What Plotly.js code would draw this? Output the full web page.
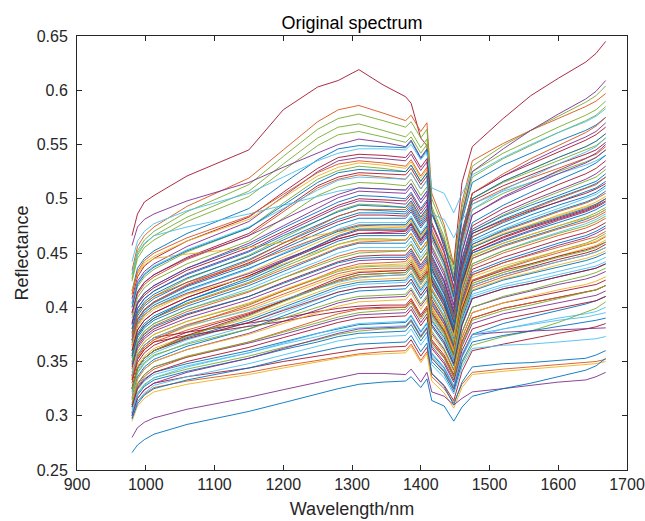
<!DOCTYPE html>
<html>
<head>
<meta charset="utf-8">
<script src="https://cdn.plot.ly/plotly-3.0.1.min.js"></script>
<style>html,body{margin:0;padding:0;background:#fff;}#chart{width:645px;height:521px;}</style>
</head>
<body>
<div id="chart"></div>
<script>
const wavelength = [980, 988, 998, 1012, 1060, 1150, 1200, 1250, 1280, 1310, 1345, 1378, 1386, 1400, 1409, 1416, 1434, 1448, 1460, 1475, 1520, 1560, 1600, 1640, 1655, 1669];

// Reflectance spectra (one array per sample), same order as wavelength
const r01 = [.466,.486,.497,.503,.521,.545,.582,.603,.609,.619,.605,.594,.588,.556,.549,.490,.455,.440,.515,.548,.574,.595,.611,.626,.634,.645];
const r02 = [.434,.456,.466,.474,.493,.519,.545,.571,.582,.586,.579,.572,.577,.562,.570,.505,.476,.439,.497,.535,.551,.563,.574,.585,.590,.597];
const r03 = [.430,.452,.462,.470,.488,.513,.539,.564,.574,.578,.572,.566,.571,.556,.564,.500,.472,.435,.492,.530,.549,.563,.576,.589,.595,.604];
const r04 = [.426,.448,.458,.466,.483,.507,.532,.556,.566,.569,.563,.557,.562,.547,.555,.493,.465,.430,.487,.525,.542,.554,.566,.577,.582,.590];
const r05 = [.424,.445,.455,.462,.479,.502,.526,.549,.559,.562,.557,.552,.557,.542,.550,.490,.462,.427,.483,.520,.537,.549,.561,.572,.577,.585];
const r06 = [.457,.474,.481,.486,.498,.515,.529,.542,.550,.555,.552,.548,.554,.538,.546,.487,.460,.425,.485,.525,.546,.563,.578,.592,.599,.609];
const r07 = [.415,.436,.445,.452,.468,.491,.514,.536,.546,.549,.548,.547,.553,.537,.545,.486,.458,.424,.480,.515,.531,.542,.553,.563,.568,.575];
const r08 = [.442,.461,.470,.477,.489,.505,.520,.535,.542,.546,.546,.545,.550,.536,.543,.510,.505,.487,.505,.522,.538,.550,.561,.571,.576,.583];
const r09 = [.408,.428,.438,.445,.461,.483,.506,.528,.538,.541,.540,.538,.544,.529,.537,.478,.452,.419,.468,.505,.521,.532,.543,.554,.559,.566];
const r10 = [.404,.424,.433,.440,.456,.479,.502,.525,.535,.538,.537,.535,.541,.526,.534,.476,.450,.417,.470,.505,.521,.534,.546,.557,.562,.570];
const r11 = [.412,.431,.441,.447,.461,.481,.501,.521,.529,.533,.531,.528,.534,.519,.527,.470,.445,.413,.465,.500,.516,.527,.538,.548,.553,.560];
const r12 = [.400,.419,.428,.435,.451,.473,.496,.518,.526,.530,.528,.525,.531,.516,.524,.468,.443,.411,.464,.500,.515,.525,.535,.545,.549,.556];
const r13 = [.395,.414,.423,.430,.446,.468,.490,.512,.520,.524,.523,.522,.528,.513,.521,.465,.441,.409,.462,.498,.512,.522,.532,.541,.545,.552];
const r14 = [.393,.412,.421,.428,.444,.466,.488,.510,.518,.522,.520,.518,.524,.509,.517,.462,.438,.407,.460,.495,.509,.519,.528,.537,.541,.548];
const r15 = [.390,.409,.418,.425,.440,.461,.482,.503,.511,.515,.514,.512,.518,.503,.511,.457,.434,.403,.456,.490,.505,.515,.525,.534,.538,.545];
const r16 = [.431,.450,.459,.466,.474,.486,.494,.502,.507,.510,.509,.508,.514,.499,.507,.486,.481,.464,.480,.495,.507,.515,.523,.531,.535,.540];
const r17 = [.386,.405,.413,.420,.436,.457,.473,.488,.497,.503,.502,.500,.506,.491,.499,.448,.425,.396,.445,.478,.494,.506,.517,.528,.533,.540];
const r18 = [.384,.403,.411,.418,.434,.455,.470,.485,.494,.500,.499,.498,.504,.489,.497,.446,.424,.395,.443,.475,.491,.502,.513,.523,.528,.535];
const r19 = [.380,.399,.408,.415,.431,.452,.468,.483,.492,.498,.497,.495,.501,.486,.494,.444,.422,.393,.440,.472,.487,.498,.508,.518,.523,.530];
const r20 = [.376,.395,.403,.410,.426,.448,.464,.480,.489,.495,.494,.492,.498,.483,.491,.441,.419,.391,.438,.470,.485,.496,.506,.516,.520,.527];
const r21 = [.377,.396,.405,.412,.427,.447,.462,.476,.484,.490,.489,.488,.494,.479,.487,.438,.417,.389,.436,.468,.481,.491,.501,.510,.514,.520];
const r22 = [.373,.392,.401,.408,.423,.444,.459,.473,.481,.487,.487,.486,.492,.477,.485,.436,.415,.387,.434,.465,.478,.488,.497,.506,.510,.516];
const r23 = [.370,.389,.398,.405,.420,.441,.456,.471,.479,.485,.485,.484,.490,.475,.483,.435,.413,.386,.436,.468,.480,.489,.497,.505,.509,.514];
const r24 = [.369,.388,.397,.404,.419,.439,.454,.468,.476,.482,.482,.482,.488,.473,.481,.433,.412,.385,.431,.462,.475,.485,.494,.502,.506,.512];
const r25 = [.365,.384,.393,.400,.415,.435,.450,.464,.472,.478,.478,.478,.484,.469,.477,.430,.410,.383,.429,.460,.472,.482,.491,.500,.504,.510];
const r26 = [.375,.394,.403,.410,.423,.440,.452,.464,.471,.476,.476,.476,.482,.467,.475,.429,.408,.382,.427,.458,.470,.479,.488,.496,.500,.505];
const r27 = [.363,.382,.391,.398,.412,.432,.446,.460,.468,.474,.474,.474,.480,.465,.473,.427,.406,.380,.425,.455,.467,.476,.485,.493,.497,.502];
const r28 = [.360,.379,.388,.395,.409,.429,.443,.457,.465,.471,.471,.471,.477,.462,.470,.425,.405,.379,.423,.452,.465,.474,.482,.490,.494,.500];
const r29 = [.365,.384,.393,.400,.413,.431,.444,.456,.463,.468,.468,.468,.474,.459,.467,.422,.402,.377,.421,.450,.462,.471,.480,.488,.492,.497];
const r30 = [.357,.376,.385,.392,.406,.425,.439,.453,.461,.466,.466,.466,.472,.457,.465,.421,.401,.376,.420,.450,.461,.470,.478,.486,.490,.495];
const r31 = [.355,.374,.383,.390,.404,.423,.437,.450,.458,.463,.463,.462,.468,.453,.461,.417,.398,.373,.417,.447,.459,.467,.475,.483,.487,.492];
const r32 = [.353,.372,.381,.388,.401,.420,.433,.446,.454,.459,.459,.459,.465,.450,.458,.415,.396,.371,.415,.445,.457,.465,.473,.481,.485,.490];
const r33 = [.415,.431,.439,.445,.449,.455,.460,.466,.470,.472,.473,.474,.480,.465,.473,.427,.406,.380,.425,.456,.468,.476,.484,.492,.495,.500];
const r34 = [.350,.369,.378,.385,.398,.417,.430,.442,.450,.455,.455,.455,.461,.446,.454,.412,.393,.369,.412,.440,.452,.461,.469,.477,.481,.486];
const r35 = [.348,.367,.376,.383,.396,.414,.427,.440,.447,.452,.452,.452,.458,.443,.451,.410,.391,.367,.410,.438,.450,.458,.466,.473,.477,.482];
const r36 = [.345,.364,.373,.380,.393,.410,.423,.435,.442,.447,.448,.448,.454,.439,.447,.407,.388,.365,.407,.435,.446,.454,.462,.469,.473,.478];
const r37 = [.347,.366,.375,.382,.394,.410,.422,.434,.441,.445,.446,.446,.452,.437,.445,.405,.387,.364,.405,.432,.443,.451,.459,.466,.470,.475];
const r38 = [.343,.362,.371,.378,.390,.407,.419,.431,.438,.443,.444,.444,.450,.435,.443,.403,.385,.362,.403,.430,.441,.449,.457,.464,.468,.473];
const r39 = [.340,.359,.368,.375,.387,.403,.415,.426,.433,.437,.438,.438,.444,.429,.437,.399,.381,.359,.399,.425,.436,.444,.452,.459,.463,.468];
const r40 = [.337,.356,.365,.372,.384,.400,.412,.424,.431,.435,.436,.436,.442,.427,.435,.397,.379,.357,.398,.425,.435,.443,.450,.457,.460,.465];
const r41 = [.335,.354,.363,.370,.382,.398,.410,.422,.429,.433,.434,.434,.440,.425,.433,.395,.378,.356,.396,.422,.432,.440,.447,.454,.457,.462];
const r42 = [.330,.349,.358,.365,.377,.394,.406,.418,.425,.430,.431,.432,.438,.423,.431,.394,.377,.355,.394,.420,.430,.437,.444,.450,.453,.458];
const r43 = [.333,.352,.361,.368,.379,.395,.406,.417,.424,.428,.429,.430,.436,.421,.429,.392,.375,.353,.392,.418,.428,.435,.442,.448,.451,.455];
const r44 = [.327,.346,.355,.362,.374,.390,.402,.414,.421,.425,.426,.427,.433,.418,.426,.390,.373,.352,.390,.416,.426,.432,.439,.445,.448,.452];
const r45 = [.325,.344,.353,.360,.372,.388,.400,.412,.419,.423,.424,.425,.431,.416,.424,.388,.372,.351,.389,.415,.425,.431,.437,.443,.446,.450];
const r46 = [.323,.342,.351,.358,.370,.386,.398,.410,.417,.421,.422,.423,.429,.414,.422,.387,.370,.350,.387,.412,.421,.427,.433,.439,.442,.446];
const r47 = [.320,.339,.348,.355,.367,.383,.395,.407,.414,.418,.419,.420,.426,.411,.419,.384,.368,.348,.385,.410,.419,.424,.430,.436,.438,.442];
const r48 = [.317,.336,.345,.352,.364,.380,.392,.404,.411,.415,.416,.417,.423,.408,.416,.382,.366,.346,.383,.408,.417,.422,.428,.434,.436,.440];
const r49 = [.315,.334,.343,.350,.361,.376,.387,.398,.404,.408,.409,.410,.416,.401,.409,.376,.361,.342,.377,.400,.409,.415,.421,.426,.429,.433];
const r50 = [.337,.356,.365,.372,.377,.385,.390,.396,.399,.401,.402,.402,.408,.393,.401,.370,.356,.338,.372,.395,.404,.409,.414,.419,.421,.425];
const r51 = [.333,.352,.361,.368,.374,.382,.387,.393,.396,.399,.400,.400,.406,.391,.399,.368,.354,.336,.368,.390,.399,.404,.409,.414,.416,.420];
const r52 = [.310,.329,.338,.345,.354,.367,.375,.384,.389,.393,.394,.395,.401,.386,.394,.364,.350,.333,.364,.385,.394,.399,.404,.409,.411,.415];
const r53 = [.308,.326,.334,.340,.348,.360,.368,.376,.380,.384,.385,.386,.392,.377,.385,.357,.344,.327,.356,.375,.385,.391,.397,.403,.406,.410];
const r54 = [.306,.324,.332,.338,.346,.358,.366,.373,.378,.381,.382,.383,.389,.374,.382,.355,.342,.326,.354,.372,.380,.385,.390,.394,.396,.400];
const r55 = [.303,.321,.329,.335,.343,.355,.363,.370,.375,.378,.380,.381,.387,.372,.380,.353,.340,.324,.348,.365,.373,.378,.386,.395,.399,.405];
const r56 = [.302,.319,.327,.333,.341,.353,.361,.368,.373,.376,.377,.378,.384,.369,.377,.350,.338,.322,.350,.368,.374,.378,.382,.386,.388,.390];
const r57 = [.300,.316,.324,.330,.336,.344,.350,.355,.358,.361,.363,.364,.370,.355,.363,.339,.328,.314,.341,.360,.366,.371,.376,.380,.382,.385];
const r58 = [.298,.313,.320,.326,.332,.340,.346,.351,.354,.357,.359,.360,.366,.351,.359,.336,.325,.312,.329,.340,.343,.345,.347,.349,.350,.352];
const r59 = [.295,.309,.316,.322,.329,.338,.344,.350,.353,.356,.357,.358,.364,.349,.357,.332,.321,.307,.326,.338,.341,.343,.345,.347,.348,.350];
const r60 = [.280,.289,.294,.298,.306,.317,.324,.331,.335,.339,.339,.338,.343,.331,.340,.322,.318,.310,.316,.322,.325,.328,.331,.333,.336,.340];
const r61 = [.266,.273,.278,.283,.292,.304,.312,.320,.325,.329,.331,.332,.336,.326,.334,.314,.309,.295,.308,.318,.325,.330,.336,.342,.346,.353];
const r62 = [.355,.374,.383,.390,.403,.422,.435,.447,.455,.460,.461,.462,.468,.453,.461,.417,.398,.373,.416,.445,.456,.464,.472,.479,.483,.488];
const r63 = [.360,.379,.388,.395,.409,.429,.442,.455,.463,.468,.469,.470,.476,.461,.469,.424,.404,.378,.423,.452,.464,.473,.481,.489,.493,.498];
const r64 = [.367,.386,.395,.402,.416,.436,.449,.462,.470,.475,.476,.476,.482,.467,.475,.429,.408,.382,.428,.458,.471,.480,.489,.497,.501,.507];
const r65 = [.350,.369,.378,.385,.398,.415,.427,.438,.445,.450,.451,.452,.458,.443,.451,.410,.391,.367,.411,.440,.452,.460,.468,.475,.479,.484];
const r66 = [.335,.354,.363,.370,.383,.402,.415,.427,.435,.440,.441,.442,.448,.433,.441,.402,.384,.361,.402,.430,.441,.448,.455,.462,.465,.470];
const r67 = [.340,.359,.368,.375,.387,.404,.416,.427,.434,.438,.439,.440,.446,.431,.439,.400,.382,.360,.401,.428,.438,.445,.452,.458,.461,.466];
const r68 = [.325,.344,.353,.360,.374,.393,.406,.419,.427,.432,.433,.434,.440,.425,.433,.395,.378,.356,.398,.424,.434,.440,.447,.453,.456,.460];
const r69 = [.337,.356,.365,.372,.383,.397,.407,.417,.423,.427,.429,.430,.436,.421,.429,.392,.375,.353,.393,.420,.430,.436,.442,.448,.451,.455];
const r70 = [.380,.399,.408,.415,.430,.451,.466,.480,.488,.494,.493,.492,.498,.483,.491,.442,.419,.391,.439,.470,.484,.494,.503,.512,.516,.523];
const r71 = [.385,.404,.413,.420,.436,.459,.475,.491,.501,.507,.506,.505,.511,.496,.504,.452,.429,.399,.451,.485,.501,.512,.523,.533,.538,.545];
const r72 = [.403,.422,.431,.438,.453,.474,.491,.508,.517,.520,.519,.518,.524,.509,.517,.462,.438,.407,.457,.490,.508,.520,.532,.543,.548,.556];
const r73 = [.412,.433,.443,.450,.464,.484,.504,.524,.532,.535,.533,.530,.536,.521,.529,.472,.446,.414,.468,.505,.523,.537,.549,.561,.567,.575];
const r74 = [.400,.421,.430,.437,.452,.473,.494,.515,.524,.527,.526,.525,.531,.516,.524,.467,.442,.410,.466,.500,.516,.527,.538,.548,.553,.560];
const r75 = [.322,.340,.349,.356,.366,.380,.390,.400,.406,.410,.411,.412,.418,.403,.411,.378,.362,.343,.377,.400,.410,.416,.423,.429,.432,.436];
const r76 = [.316,.334,.343,.350,.361,.375,.385,.395,.401,.405,.406,.407,.413,.398,.406,.374,.359,.340,.373,.395,.404,.410,.416,.421,.424,.428];
const r77 = [.310,.327,.336,.343,.354,.368,.378,.388,.394,.398,.399,.400,.406,.391,.399,.368,.354,.336,.368,.390,.399,.404,.409,.414,.416,.420];
const r78 = [.308,.325,.333,.340,.350,.363,.372,.381,.386,.390,.391,.392,.398,.383,.391,.362,.348,.331,.360,.380,.389,.394,.399,.404,.406,.410];
const r79 = [.298,.313,.321,.328,.336,.348,.356,.364,.369,.372,.373,.374,.380,.365,.373,.347,.335,.320,.345,.362,.365,.366,.368,.370,.371,.373];
const r80 = [.300,.316,.324,.330,.340,.353,.362,.371,.376,.380,.381,.382,.388,.373,.381,.353,.341,.325,.355,.375,.377,.378,.379,.380,.380,.381];
const r81 = [.297,.311,.319,.325,.333,.344,.352,.359,.363,.366,.367,.368,.374,.359,.367,.339,.327,.310,.331,.345,.348,.349,.351,.353,.356,.360];
const r82 = [.312,.330,.338,.345,.355,.368,.377,.386,.391,.395,.397,.398,.404,.389,.397,.366,.353,.335,.366,.388,.397,.402,.408,.414,.416,.420];
const r83 = [.370,.389,.398,.405,.421,.443,.459,.475,.484,.490,.490,.490,.496,.481,.489,.440,.417,.389,.434,.465,.479,.490,.500,.509,.513,.520];
const r84 = [.365,.384,.393,.400,.412,.428,.440,.451,.458,.462,.462,.462,.468,.453,.461,.417,.398,.373,.418,.448,.459,.467,.475,.482,.485,.490];
const r85 = [.395,.414,.423,.430,.445,.466,.481,.496,.504,.510,.509,.508,.514,.499,.507,.455,.432,.402,.451,.485,.502,.514,.526,.537,.542,.550];
const r86 = [.325,.344,.353,.360,.371,.386,.397,.408,.414,.418,.419,.420,.426,.411,.419,.384,.368,.348,.384,.408,.417,.422,.428,.434,.436,.440];
const r87 = [.355,.374,.383,.390,.406,.427,.442,.457,.466,.472,.472,.472,.478,.463,.471,.426,.406,.380,.425,.455,.467,.475,.483,.491,.495,.500];
const r88 = [.325,.344,.353,.360,.373,.392,.405,.417,.425,.430,.431,.432,.438,.423,.431,.394,.377,.355,.395,.422,.432,.439,.446,.452,.455,.460];
const r89 = [.303,.320,.328,.335,.345,.358,.367,.376,.381,.385,.386,.387,.393,.378,.386,.358,.345,.328,.357,.375,.380,.384,.388,.391,.393,.395];

const spectra = [r01,r02,r03,r04,r05,r06,r07,r08,r09,r10,r11,r12,r13,r14,r15,r16,r17,r18,r19,r20,
  r21,r22,r23,r24,r25,r26,r27,r28,r29,r30,r31,r32,r33,r34,r35,r36,r37,r38,r39,r40,
  r41,r42,r43,r44,r45,r46,r47,r48,r49,r50,r51,r52,r53,r54,r55,r56,r57,r58,r59,r60,
  r61,r62,r63,r64,r65,r66,r67,r68,r69,r70,r71,r72,r73,r74,r75,r76,r77,r78,r79,r80,
  r81,r82,r83,r84,r85,r86,r87,r88,r89];

// Axis ticks
const xTickValues = [900, 1000, 1100, 1200, 1300, 1400, 1500, 1600, 1700];
const xTickLabels = ['900', '1000', '1100', '1200', '1300', '1400', '1500', '1600', '1700'];
const yTickValues = [0.25, 0.3, 0.35, 0.4, 0.45, 0.5, 0.55, 0.6, 0.65];
const yTickLabels = ['0.25', '0.3', '0.35', '0.4', '0.45', '0.5', '0.55', '0.6', '0.65'];

// Styling: MATLAB default line colour order, and colour index per spectrum
const lineColors = ['#0072BD', '#D95319', '#EDB120', '#7E2F8E', '#77AC30', '#4DBEEE', '#A2142F'];
const colorIndex = [6,1,4,4,4,3,0,5,6,3,2,4,6,1,4,5,0,6,3,4,0,0,6,0,5,1,2,6,3,0,4,0,2,5,1,6,0,3,4,1,
  2,6,1,2,0,5,5,0,3,6,6,3,0,5,4,0,6,1,2,3,0,1,6,0,4,1,2,6,5,0,3,5,1,0,4,2,1,6,5,3,0,4,1,2,3,6,0,4,5];

const traces = spectra.map((s, i) => ({
  x: wavelength,
  y: s,
  type: 'scatter',
  mode: 'lines',
  line: {color: lineColors[colorIndex[i] % lineColors.length], width: 0.9},
  hoverinfo: 'skip',
  showlegend: false
}));

const axisColor = '#262626';
const layout = {
  width: 645,
  height: 521,
  margin: {l: 77, r: 18, t: 36, b: 51, pad: 0},
  paper_bgcolor: '#ffffff',
  plot_bgcolor: '#ffffff',
  font: {family: '"Liberation Sans", Arial, Helvetica, sans-serif', color: axisColor, size: 16},
  showlegend: false,
  title: {
    text: 'Original spectrum',
    font: {size: 18, color: '#000000'},
    x: 0.5, xref: 'paper', xanchor: 'center',
    y: 1 - 23 / 521, yref: 'container', yanchor: 'middle'
  },
  xaxis: {
    range: [900, 1700],
    tickmode: 'array',
    tickvals: xTickValues,
    ticktext: xTickLabels,
    ticks: 'inside',
    ticklen: 5,
    tickwidth: 1,
    tickcolor: axisColor,
    showline: true,
    linecolor: axisColor,
    linewidth: 1,
    mirror: 'ticks',
    showgrid: false,
    zeroline: false,
    automargin: false,
    tickfont: {size: 16, color: axisColor},
    title: {text: 'Wavelength/nm', font: {size: 18, color: axisColor}, standoff: 10}
  },
  yaxis: {
    range: [0.25, 0.65],
    tickmode: 'array',
    tickvals: yTickValues,
    ticktext: yTickLabels,
    ticks: 'inside',
    ticklen: 5,
    tickwidth: 1,
    tickcolor: axisColor,
    showline: true,
    linecolor: axisColor,
    linewidth: 1,
    mirror: 'ticks',
    showgrid: false,
    zeroline: false,
    automargin: false,
    ticklabelstandoff: 5,
    tickfont: {size: 16, color: axisColor},
    title: {text: 'Reflectance', font: {size: 18, color: axisColor}, standoff: 3}
  }
};

Plotly.newPlot('chart', traces, layout, {displayModeBar: false, staticPlot: true});
</script>
</body>
</html>
